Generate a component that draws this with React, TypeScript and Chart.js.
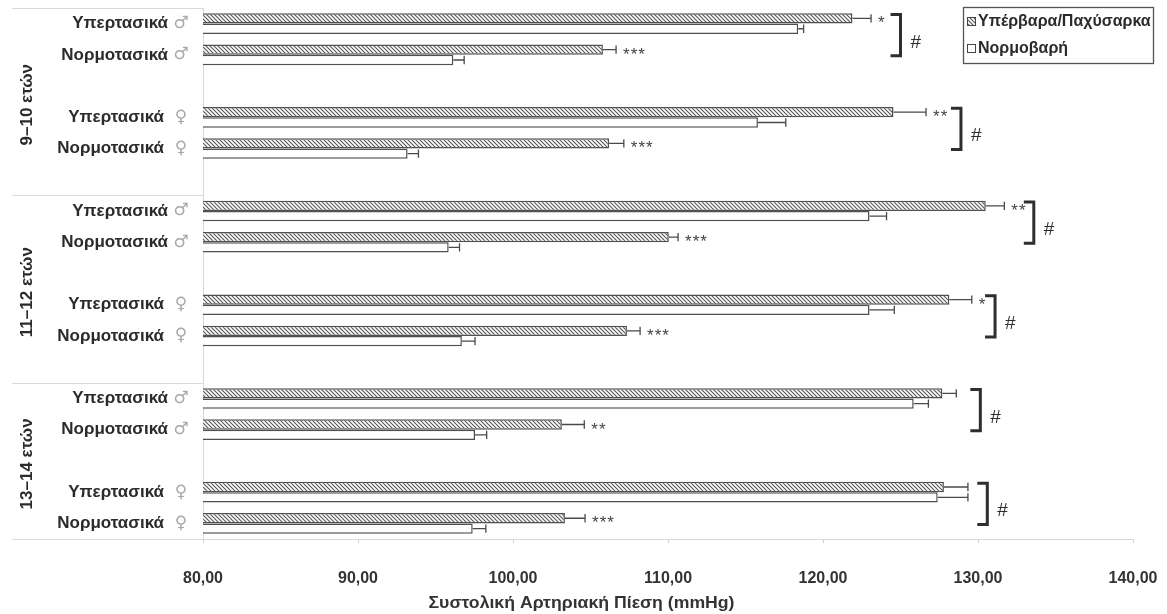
import React, { useEffect, useRef } from 'react';
import { Chart, registerables } from 'chart.js';

Chart.register(...registerables);

// ---------- data ----------
const groupLabels = ['9–10 ετών', '11–12 ετών', '13–14 ετών'];

const categories = [
  'Υπερτασικά ♂', 'Νορμοτασικά ♂', '', 'Υπερτασικά ♀', 'Νορμοτασικά ♀', '',
  'Υπερτασικά ♂', 'Νορμοτασικά ♂', '', 'Υπερτασικά ♀', 'Νορμοτασικά ♀', '',
  'Υπερτασικά ♂', 'Νορμοτασικά ♂', '', 'Υπερτασικά ♀', 'Νορμοτασικά ♀',
];

const seriesNames = ['Υπέρβαρα/Παχύσαρκα', 'Νορμοβαρή'];

const overweight = [121.9, 105.8, null, 124.55, 106.2, null, 130.5, 110.05, null, 128.15, 107.35, null, 127.7, 103.15, null, 127.8, 103.35];
const overweightErr = [1.2, 0.85, null, 2.1, 0.95, null, 1.2, 0.6, null, 1.45, 0.85, null, 0.9, 1.45, null, 1.55, 1.3];
const normal = [118.4, 96.15, null, 115.8, 93.2, null, 123.0, 95.85, null, 123.0, 96.7, null, 125.85, 97.55, null, 127.4, 97.4];
const normalErr = [0.35, 0.7, null, 1.8, 0.7, null, 1.1, 0.7, null, 1.6, 0.85, null, 0.95, 0.75, null, 1.95, 0.85];

const stars = ['*', '***', '', '**', '***', '', '**', '***', '', '*', '***', '', '', '**', '', '', '***'];

// bracket ("#") positions for each pair of rows, in axis units
const bracketX = [125.0, 128.9, 133.6, 131.1, 130.15, 130.6];
const bracketMark = ['#', '#', '#', '#', '#', '#'];

const xTickLabels = ['80,00', '90,00', '100,00', '110,00', '120,00', '130,00', '140,00'];
const xTitle = 'Συστολική Αρτηριακή Πίεση (mmHg)';

// ---------- helpers ----------
const FONT = '"Liberation Sans", Arial, sans-serif';
const DARK = '#333333';
const LINE = '#4a4a4a';

function makeHatch(): CanvasPattern | string {
  const c = document.createElement('canvas');
  const s = 4;
  c.width = s;
  c.height = s;
  const g = c.getContext('2d');
  if (!g) return '#999';
  g.fillStyle = '#ffffff';
  g.fillRect(0, 0, s, s);
  g.strokeStyle = '#555555';
  g.lineWidth = 1.1;
  g.beginPath();
  g.moveTo(-1, -1);
  g.lineTo(s + 1, s + 1);
  g.moveTo(-1, s - 1);
  g.lineTo(1, s + 1);
  g.moveTo(s - 1, -1);
  g.lineTo(s + 1, 1);
  g.stroke();
  return g.createPattern(c, 'repeat') || '#999';
}

export default function App() {
  const ref = useRef<HTMLCanvasElement>(null);

  useEffect(() => {
    if (!ref.current) return;
    const hatch = makeHatch();

    const decor = {
      id: 'decor',
      afterDatasetsDraw(chart: any) {
        const ctx = chart.ctx as CanvasRenderingContext2D;
        const xs = chart.scales.x;
        const ys = chart.scales.y;
        const m0 = chart.getDatasetMeta(0);
        const m1 = chart.getDatasetMeta(1);
        ctx.save();
        // error bars (positive side only)
        const sets: any[] = [
          [m0, overweight, overweightErr],
          [m1, normal, normalErr],
        ];
        sets.forEach(([meta, vals, errs]) => {
          vals.forEach((v: number | null, i: number) => {
            if (v == null) return;
            const el = meta.data[i];
            const x0 = el.x;
            const x1 = xs.getPixelForValue(v + errs[i]);
            const h = el.height;
            const y = el.y;
            ctx.strokeStyle = LINE;
            ctx.lineWidth = 1.3;
            ctx.beginPath();
            ctx.moveTo(x0, y);
            ctx.lineTo(x1, y);
            ctx.moveTo(x1, y - h / 2 + 1);
            ctx.lineTo(x1, y + h / 2 - 1);
            ctx.stroke();
          });
        });
        // significance stars
        ctx.font = `17px ${FONT}`;
        ctx.fillStyle = '#444';
        ctx.textAlign = 'left';
        ctx.textBaseline = 'alphabetic';
        (ctx as any).letterSpacing = '1px';
        stars.forEach((s, i) => {
          if (!s) return;
          const v = overweight[i] as number;
          const e = overweightErr[i] as number;
          const el = m0.data[i];
          const x = xs.getPixelForValue(v + e) + 7;
          ctx.fillText(s, x, el.y + 10);
        });
        (ctx as any).letterSpacing = '0px';
        // brackets with #
        bracketX.forEach((bx, p) => {
          const i = p * 3;
          const top = ys.getPixelForValue(i) - 9;
          const bottom = ys.getPixelForValue(i + 1) + 1;
          const x = xs.getPixelForValue(bx);
          ctx.strokeStyle = '#2e2e2e';
          ctx.lineWidth = 3;
          ctx.lineJoin = 'miter';
          ctx.beginPath();
          ctx.moveTo(x - 10, top);
          ctx.lineTo(x, top);
          ctx.lineTo(x, bottom);
          ctx.lineTo(x - 10, bottom);
          ctx.stroke();
          ctx.font = `19px ${FONT}`;
          ctx.fillStyle = '#2e2e2e';
          ctx.textAlign = 'left';
          ctx.textBaseline = 'alphabetic';
          ctx.fillText(bracketMark[p], x + 10, (top + bottom) / 2 + 12.5);
        });
        ctx.restore();
      },
      afterDraw(chart: any) {
        const ctx = chart.ctx as CanvasRenderingContext2D;
        const ys = chart.scales.y;
        const area = chart.chartArea;
        const left = area.left;
        const slot = (area.bottom - area.top) / categories.length;
        ctx.save();
        // category labels
        categories.forEach((lab, i) => {
          if (!lab) return;
          const sym = lab.slice(-1);
          const text = lab.slice(0, -1).trim();
          const y = ys.getPixelForValue(i);
          const male = sym === '♂';
          ctx.font = `bold 17px ${FONT}`;
          ctx.fillStyle = '#2b2b2b';
          ctx.textAlign = 'right';
          ctx.textBaseline = 'middle';
          ctx.fillText(text, left - (male ? 35 : 39), y);
          ctx.font = '17px "DejaVu Sans", sans-serif';
          ctx.fillStyle = '#a8a8a8';
          ctx.textAlign = 'center';
          ctx.fillText(sym, left - 22, y);
        });
        // group separators
        ctx.strokeStyle = '#dadada';
        ctx.lineWidth = 1;
        const bounds = [area.top];
        groupLabels.forEach((_, g) => {
          const last = Math.min(g * 6 + 5, categories.length - 1);
          bounds.push(g === groupLabels.length - 1 ? area.bottom : ys.getPixelForValue(last) + slot / 2);
        });
        bounds.forEach((b) => {
          ctx.beginPath();
          ctx.moveTo(12, Math.round(b) + 0.5);
          ctx.lineTo(left, Math.round(b) + 0.5);
          ctx.stroke();
        });
        // group labels (rotated)
        groupLabels.forEach((gl, g) => {
          const cy = (bounds[g] + bounds[g + 1]) / 2 + 3;
          ctx.save();
          ctx.translate(27, cy);
          ctx.rotate(-Math.PI / 2);
          ctx.font = `bold 17px ${FONT}`;
          ctx.fillStyle = '#2b2b2b';
          ctx.textAlign = 'center';
          ctx.textBaseline = 'middle';
          ctx.fillText(gl, 0, 0);
          ctx.restore();
        });
        // axis title (condensed look, centered on the whole picture)
        ctx.save();
        ctx.font = `bold 17px ${FONT}`;
        const tw = ctx.measureText(xTitle).width;
        const target = 306;
        const sx = target / tw;
        ctx.translate(chart.width / 2 - 2, 603);
        ctx.scale(sx, 1);
        ctx.fillStyle = DARK;
        ctx.textAlign = 'center';
        ctx.textBaseline = 'middle';
        ctx.fillText(xTitle, 0, 0);
        ctx.restore();
        // legend box
        const lx = chart.width - 204;
        const ly = 7;
        const lw = 190;
        const lh = 56;
        ctx.fillStyle = '#ffffff';
        ctx.fillRect(lx, ly, lw, lh);
        ctx.strokeStyle = '#555';
        ctx.lineWidth = 1.3;
        ctx.strokeRect(lx + 0.5, ly + 0.5, lw, lh);
        const items = [
          { name: seriesNames[0], fill: hatch, y: ly + 14.5 },
          { name: seriesNames[1], fill: '#ffffff', y: ly + 41.5 },
        ];
        items.forEach((it) => {
          ctx.fillStyle = it.fill as any;
          ctx.fillRect(lx + 4, it.y - 4.5, 9, 9);
          ctx.strokeStyle = '#444';
          ctx.lineWidth = 1;
          ctx.strokeRect(lx + 4.5, it.y - 4, 8, 8);
          ctx.font = `bold 16px ${FONT}`;
          ctx.fillStyle = '#2b2b2b';
          ctx.textAlign = 'left';
          ctx.textBaseline = 'middle';
          ctx.fillText(it.name, lx + 15, it.y);
        });
        ctx.restore();
      },
    };

    const chart = new Chart(ref.current, {
      type: 'bar',
      data: {
        labels: categories,
        datasets: [
          {
            label: seriesNames[0],
            data: overweight as any,
            backgroundColor: hatch as any,
            borderColor: '#505050',
            borderWidth: 1.5,
            categoryPercentage: 0.66,
            barPercentage: 1,
          },
          {
            label: seriesNames[1],
            data: normal as any,
            backgroundColor: '#ffffff',
            borderColor: '#505050',
            borderWidth: 1.5,
            categoryPercentage: 0.66,
            barPercentage: 1,
          },
        ],
      },
      options: {
        indexAxis: 'y',
        responsive: false,
        animation: false,
        layout: { padding: { left: 203, right: 34, top: 8, bottom: 0 } },
        plugins: {
          legend: { display: false },
          tooltip: { enabled: false },
          title: { display: false },
        },
        scales: {
          x: {
            type: 'linear',
            min: 80,
            max: 140,
            ticks: {
              stepSize: 10,
              color: DARK,
              padding: 26,
              font: { family: FONT, size: 16, weight: 'bold' },
              callback: (_v: any, i: number) => xTickLabels[i],
            },
            grid: { drawOnChartArea: false, drawTicks: true, tickLength: 4, color: '#d0d0d0' },
            border: { color: '#d8d8d8' },
            afterFit: (s: any) => {
              s.height = 75;
              s.paddingLeft = 0;
              s.paddingRight = 0;
            },
          },
          y: {
            ticks: { display: false },
            grid: { display: false, drawTicks: false },
            border: { display: true, color: '#d8d8d8' },
          },
        },
      },
      plugins: [decor],
    } as any);

    return () => chart.destroy();
  }, []);

  return (
    <div style={{ position: 'fixed', left: 0, top: 0, width: 1167, height: 614, background: '#ffffff' }}>
      <canvas ref={ref} width={1167} height={614} style={{ display: 'block' }} />
    </div>
  );
}
